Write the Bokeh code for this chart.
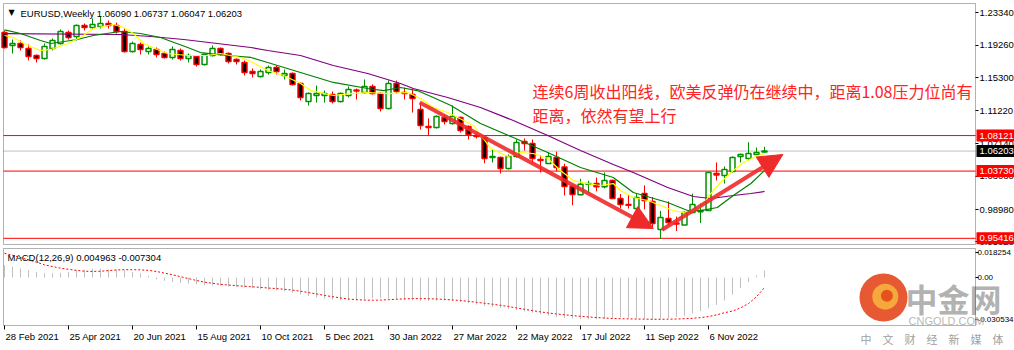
from bokeh.plotting import figure
from bokeh.models import ColumnDataSource, Range1d, Arrow, NormalHead, BoxAnnotation
from bokeh.layouts import column
from bokeh.embed import file_html
from bokeh.resources import INLINE
from bokeh.core.properties import value

FONT = "Liberation Sans"
CJK = "Noto Sans CJK SC"

# ---------------- data (weekly EURUSD, index 0 = week of 28 Feb 2021) ----------------
date_idx = [0, 8, 16, 24, 32, 40, 48, 56, 64, 72, 80, 88]
date_labels = ["28 Feb 2021", "25 Apr 2021", "20 Jun 2021", "15 Aug 2021", "10 Oct 2021",
               "5 Dec 2021", "30 Jan 2022", "27 Mar 2022", "22 May 2022", "17 Jul 2022",
               "11 Sep 2022", "6 Nov 2022"]

opens = [1.2087, 1.1926, 1.1951, 1.1889, 1.1802, 1.1765, 1.1889, 1.1951, 1.2087, 1.2037,
         1.2173, 1.2149, 1.2161, 1.2198, 1.2173, 1.2099, 1.1852, 1.1938, 1.1852, 1.1877,
         1.1827, 1.1778, 1.1864, 1.1765, 1.1790, 1.1691, 1.1802, 1.1889, 1.1827, 1.1753,
         1.1716, 1.1604, 1.1543, 1.1592, 1.1654, 1.1555, 1.1580, 1.1456, 1.1234, 1.1308,
         1.1308, 1.1320, 1.1234, 1.1308, 1.1376, 1.1345, 1.1419, 1.1332, 1.1147, 1.1456,
         1.1345, 1.1320, 1.1135, 1.0924, 1.0912, 1.1036, 1.0961, 1.1036, 1.0924, 1.0813,
         1.0788, 1.0541, 1.0541, 1.0405, 1.0553, 1.0739, 1.0714, 1.0516, 1.0467, 1.0541,
         1.0425, 1.0185, 1.0080, 1.0210, 1.0220, 1.0180, 1.0257, 1.0034, 0.9960, 0.9910,
         1.0096, 0.9997, 0.9650, 0.9787, 0.9730, 0.9705, 0.9861, 0.9870, 0.9885, 1.0343,
         1.0318, 1.0368, 1.0553, 1.0529, 1.0578, 1.06090]
highs = [1.2111, 1.2000, 1.1988, 1.1938, 1.1815, 1.1951, 1.2013, 1.2124, 1.2111, 1.2186,
         1.2198, 1.2260, 1.2290, 1.2235, 1.2210, 1.2136, 1.1975, 1.1963, 1.1914, 1.1901,
         1.1852, 1.1914, 1.1889, 1.1827, 1.1802, 1.1827, 1.1926, 1.1901, 1.1839, 1.1766,
         1.1741, 1.1642, 1.1629, 1.1679, 1.1679, 1.1629, 1.1592, 1.1468, 1.1345, 1.1431,
         1.1369, 1.1357, 1.1345, 1.1419, 1.1394, 1.1506, 1.1444, 1.1345, 1.1493, 1.1493,
         1.1406, 1.1394, 1.1221, 1.1023, 1.1061, 1.1073, 1.1184, 1.1048, 1.0937, 1.0850,
         1.0801, 1.0641, 1.0553, 1.0578, 1.0764, 1.0777, 1.0764, 1.0566, 1.0604, 1.0614,
         1.0464, 1.0200, 1.0278, 1.0254, 1.0293, 1.0356, 1.0268, 1.0090, 1.0079, 1.0096,
         1.0197, 1.0051, 0.9880, 0.9999, 0.9810, 0.9875, 1.0094, 0.9972, 1.0365, 1.0480,
         1.0430, 1.0553, 1.0590, 1.0730, 1.0665, 1.06737]
lows = [1.1889, 1.1827, 1.1864, 1.1741, 1.1716, 1.1753, 1.1864, 1.1938, 1.2000, 1.1988,
        1.2111, 1.2124, 1.2136, 1.2136, 1.2074, 1.1839, 1.1839, 1.1815, 1.1815, 1.1778,
        1.1765, 1.1753, 1.1741, 1.1716, 1.1666, 1.1679, 1.1790, 1.1802, 1.1703, 1.1691,
        1.1555, 1.1530, 1.1530, 1.1567, 1.1567, 1.1506, 1.1431, 1.1246, 1.1184, 1.1221,
        1.1221, 1.1209, 1.1221, 1.1283, 1.1258, 1.1332, 1.1320, 1.1110, 1.1135, 1.1332,
        1.1258, 1.1097, 1.0887, 1.0813, 1.0899, 1.0949, 1.0949, 1.0850, 1.0764, 1.0776,
        1.0470, 1.0479, 1.0343, 1.0393, 1.0541, 1.0627, 1.0467, 1.0356, 1.0467, 1.0368,
        1.0072, 0.9952, 1.0080, 1.0096, 1.0123, 1.0160, 1.0034, 0.9910, 0.9910, 0.9864,
        0.9900, 0.9669, 0.9536, 0.9700, 0.9632, 0.9704, 0.9855, 0.9730, 0.9880, 1.0257,
        1.0219, 1.0356, 1.0479, 1.0504, 1.0578, 1.06047]
closes = [1.1901, 1.1951, 1.1901, 1.1790, 1.1765, 1.1914, 1.1988, 1.2099, 1.2025, 1.2173,
          1.2149, 1.2186, 1.2198, 1.2173, 1.2099, 1.1852, 1.1951, 1.1877, 1.1889, 1.1815,
          1.1778, 1.1877, 1.1765, 1.1802, 1.1691, 1.1815, 1.1889, 1.1815, 1.1728, 1.1728,
          1.1592, 1.1580, 1.1604, 1.1654, 1.1604, 1.1580, 1.1443, 1.1283, 1.1332, 1.1332,
          1.1332, 1.1234, 1.1332, 1.1382, 1.1364, 1.1419, 1.1332, 1.1147, 1.1456, 1.1357,
          1.1332, 1.1271, 1.0937, 1.0912, 1.1048, 1.0986, 1.1048, 1.0875, 1.0825, 1.0801,
          1.0529, 1.0553, 1.0405, 1.0553, 1.0727, 1.0714, 1.0529, 1.0504, 1.0553, 1.0417,
          1.0182, 1.0082, 1.0211, 1.0220, 1.0180, 1.0257, 1.0034, 0.9960, 0.9950, 1.0046,
          1.0009, 0.9725, 0.9799, 0.9737, 0.9720, 0.9861, 0.9960, 0.9885, 1.0356, 1.0325,
          1.0393, 1.0541, 1.0578, 1.0590, 1.0603, 1.06203]

# moving averages (candle index, price)
ma_fast_x = [0, 1.1, 2.9, 4.5, 5.8, 7.9, 9.5, 11.1, 12.9, 13.6, 14.9, 16.1, 17.4, 19.1, 20.4,
             22.9, 25.4, 27.0, 29.5, 30.8, 32.9, 34.9, 37.0, 38.3, 41.1, 43.3, 45.4, 47.9,
             50.4, 52.0, 53.6, 55.4, 57.4, 58.6, 60.8, 62.9, 64.5, 66.1, 67.9, 69.5, 71.1,
             72.9, 74.5, 76.1, 77.0, 78.6, 80.4, 82.0, 83.6, 84.9, 86.1, 87.0, 88.3, 89.5,
             91.1, 92.4, 93.6, 95.0]
ma_fast_y = [1.2050, 1.2025, 1.1926, 1.1864, 1.1877, 1.1951, 1.2025, 1.2136, 1.2173, 1.2186,
             1.2149, 1.2074, 1.1951, 1.1877, 1.1827, 1.1802, 1.1802, 1.1827, 1.1778, 1.1728,
             1.1617, 1.1555, 1.1456, 1.1369, 1.1308, 1.1332, 1.1345, 1.1332, 1.1345, 1.1271,
             1.1159, 1.1098, 1.0998, 1.0937, 1.0652, 1.0553, 1.0603, 1.0590, 1.0529, 1.0380,
             1.0257, 1.0219, 1.0195, 1.0219, 1.0133, 1.0046, 1.0009, 0.9947, 0.9885, 0.9861,
             0.9885, 0.9923, 1.0096, 1.0232, 1.0380, 1.0479, 1.0541, 1.0590]
ma_mid_x = [0, 2.0, 4.5, 5.8, 9.1, 11.1, 13.6, 14.5, 17.0, 19.5, 22.9, 24.5, 27.9, 30.8,
            32.9, 37.0, 41.1, 45.4, 47.4, 49.5, 51.6, 53.6, 55.8, 59.5, 63.6, 67.9, 72.0,
            76.1, 78.6, 82.9, 85.4, 87.0, 89.1, 91.1, 93.3, 95.0]
ma_mid_y = [1.2120, 1.2074, 1.1988, 1.1951, 1.2000, 1.2050, 1.2087, 1.2099, 1.2074, 1.2025,
            1.1901, 1.1839, 1.1802, 1.1778, 1.1716, 1.1592, 1.1469, 1.1394, 1.1369, 1.1407,
            1.1369, 1.1283, 1.1184, 1.0961, 1.0788, 1.0603, 1.0417, 1.0294, 1.0108, 0.9984,
            0.9885, 0.9885, 0.9923, 1.0071, 1.0219, 1.0380]
ma_slow_x = [0, 14.5, 18.3, 22.4, 26.6, 30.8, 32.9, 37.0, 41.1, 45.4, 49.5, 51.1, 55.4, 59.5,
             63.6, 67.9, 72.0, 76.1, 78.6, 82.9, 86.1, 88.3, 91.1, 93.3, 95.0]
ma_slow_y = [1.2074, 1.2062, 1.2037, 1.2000, 1.1951, 1.1901, 1.1864, 1.1802, 1.1679, 1.1580,
             1.1456, 1.1394, 1.1283, 1.1159, 1.0998, 1.0813, 1.0628, 1.0454, 1.0356, 1.0170,
             1.0059, 1.0034, 1.0071, 1.0096, 1.0121]

price_ticks = [1.23340, 1.19260, 1.15300, 1.11220, 1.07140, 1.03080, 0.98980, 0.95020]
red_levels = [1.08121, 1.03730, 0.95416]
last_price = 1.06203

# trend arrows (candle index, price)
down_arrow = dict(x0=51.9, y0=1.1221, x1=81.1, y1=0.9663)
up_arrow = dict(x0=82.2, y0=0.9647, x1=97.3, y1=1.0578)

macd_hist = [0.0090, 0.0078, 0.0066, 0.0053, 0.0041, 0.0030, 0.0030, 0.0034, 0.0041, 0.0053,
             0.0058, 0.0066, 0.0066, 0.0058, 0.0058, 0.0053, 0.0041, 0.0030, 0.0012, -0.0012,
             -0.0024, -0.0032, -0.0040, -0.0044, -0.0050, -0.0056, -0.0058, -0.0060, -0.0066, -0.0068,
             -0.0073, -0.0078, -0.0085, -0.0090, -0.0095, -0.0102, -0.0112, -0.0125, -0.0136, -0.0146,
             -0.0155, -0.0162, -0.0166, -0.0168, -0.0166, -0.0160, -0.0152, -0.0150, -0.0156, -0.0160,
             -0.0165, -0.0166, -0.0170, -0.0172, -0.0170, -0.0168, -0.0170, -0.0178, -0.0188, -0.0198,
             -0.0208, -0.0215, -0.0222, -0.0230, -0.0238, -0.0248, -0.0258, -0.0268, -0.0278, -0.0288,
             -0.0296, -0.0300, -0.0303, -0.0305, -0.0305, -0.0300, -0.0296, -0.0292, -0.0295, -0.0300,
             -0.0302, -0.0305, -0.0300, -0.0295, -0.0288, -0.0278, -0.0262, -0.0245, -0.0225, -0.0200,
             -0.0168, -0.0125, -0.0078, -0.0035, 0.0015, 0.004963]
macd_signal = [0.0177, 0.0162, 0.0146, 0.0128, 0.0112, 0.0092, 0.0080, 0.0068, 0.0060, 0.0052,
               0.0046, 0.0044, 0.0046, 0.0050, 0.0055, 0.0057, 0.0057, 0.0056, 0.0052, 0.0044,
               0.0032, 0.0020, 0.0006, -0.0008, -0.0022, -0.0034, -0.0042, -0.0050, -0.0055, -0.0060,
               -0.0064, -0.0068, -0.0072, -0.0077, -0.0081, -0.0086, -0.0092, -0.0100, -0.0110, -0.0120,
               -0.0131, -0.0140, -0.0149, -0.0157, -0.0162, -0.0165, -0.0166, -0.0165, -0.0162, -0.0159,
               -0.0156, -0.0154, -0.0154, -0.0155, -0.0157, -0.0160, -0.0164, -0.0168, -0.0174, -0.0181,
               -0.0188, -0.0195, -0.0203, -0.0212, -0.0222, -0.0232, -0.0242, -0.0251, -0.0259, -0.0266,
               -0.0272, -0.0278, -0.0283, -0.0288, -0.0292, -0.0296, -0.0299, -0.0301, -0.0302, -0.0303,
               -0.0304, -0.0305, -0.0305, -0.0304, -0.0303, -0.0301, -0.0298, -0.0293, -0.0285, -0.0273,
               -0.0257, -0.0245, -0.0222, -0.0190, -0.0140, -0.007304]
macd_ticks = [0.018254, 0.0, -0.030534]
macd_tick_labels = ["0.018254", "0.00", "-0.030534"]

# ---------------- layout geometry (candle index <-> pixel: x = 4 + 8*i) ----------------
X_RANGE = (-0.5, 126.25)          # whole 1014 px canvas width
PANEL_L, PANEL_R = -0.125, 121.375  # panel borders at x = 3 and x = 975
TICK_R = 121.75                   # end of the small scale ticks
LABEL_X = 121.875                 # scale labels start
TAG_L = 121.5                     # price tags start

def make_fig(h, y0, y1):
    f = figure(width=1014, height=h, x_range=Range1d(*X_RANGE), y_range=Range1d(y0, y1),
               x_axis_location=None, y_axis_location=None, toolbar_location=None,
               output_backend="svg", min_border=0, background_fill_color="white",
               border_fill_color="white", outline_line_color=None)
    for g in list(f.xgrid) + list(f.ygrid):
        g.visible = False
    return f

def txt(f, x, y, text, size, color="black", font=FONT, align="left", **kw):
    f.text(x=x, y=y, text=text, text_font=value(font), text_font_size=size,
           text_color=color, text_align=align, text_baseline="middle", **kw)

# ---------------- main price panel ----------------
idx = list(range(len(opens)))
BULL, BEAR = "#009000", "#ff0000"
bull = [c >= o for o, c in zip(opens, closes)]
src = ColumnDataSource(dict(
    x=idx, low=lows, high=highs,
    top=[max(o, c) for o, c in zip(opens, closes)],
    bottom=[min(o, c) for o, c in zip(opens, closes)],
    line=[BULL if b else BEAR for b in bull],
    fill=["white" if b else "black" for b in bull],
))

p = make_fig(246, 0.94405, 1.24824)
P_TOP, P_BOT = 1.24453, 0.94652

# horizontal price lines
p.segment(x0=[PANEL_L], y0=[last_price], x1=[PANEL_R], y1=[last_price], line_color="#c0c0c0", line_width=1)
p.segment(x0=[PANEL_L] * 3, y0=red_levels, x1=[PANEL_R] * 3, y1=red_levels, line_color="#ff0000", line_width=1)

# candles
p.segment(x0="x", y0="low", x1="x", y1="high", line_color="line", line_width=1, source=src)
p.vbar(x="x", width=0.62, top="top", bottom="bottom", fill_color="fill", line_color="line",
       line_width=1.5, source=src)

# moving averages
p.line(ma_slow_x, ma_slow_y, line_color="#800080", line_width=1.2)
p.line(ma_mid_x, ma_mid_y, line_color="#008000", line_width=1.2)
p.line(ma_fast_x, ma_fast_y, line_color="#ffff00", line_width=1.2)

ARROW = "#ee2a2a"
for a in (down_arrow, up_arrow):
    p.add_layout(Arrow(end=NormalHead(size=24, fill_color=ARROW, line_color=ARROW, line_width=1),
                       x_start=a["x0"], y_start=a["y0"], x_end=a["x1"], y_end=a["y1"],
                       line_color=ARROW, line_width=4, line_alpha=0.9))

# panel border
p.add_layout(BoxAnnotation(left=PANEL_L, right=PANEL_R, top=P_TOP, bottom=P_BOT,
                           fill_color=None, line_color="black", line_width=1))

# price scale
p.segment(x0=[PANEL_R] * len(price_ticks), y0=price_ticks, x1=[TICK_R] * len(price_ticks),
          y1=price_ticks, line_color="black", line_width=1)
txt(p, [LABEL_X] * len(price_ticks), price_ticks, ["%.5f" % v for v in price_ticks], "9.5px")

# price tags
tag_h = 0.0074
p.quad(left=[TAG_L] * 3, right=[X_RANGE[1]] * 3, top=[v + tag_h for v in red_levels],
       bottom=[v - tag_h for v in red_levels], fill_color="#ff0000", line_color=None)
p.quad(left=[TAG_L], right=[X_RANGE[1]], top=[last_price + tag_h], bottom=[last_price - tag_h],
       fill_color="black", line_color=None)
txt(p, [LABEL_X] * 3, red_levels, ["%.5f" % v for v in red_levels], "9.5px", color="white")
txt(p, [LABEL_X], [last_price], ["%.5f" % last_price], "9.5px", color="white")

# header and comment
txt(p, [0.5], [1.2330], ["▼"], "8px", font="DejaVu Sans")
txt(p, [2.0], [1.23254], ["EURUSD,Weekly  1.06090 1.06737 1.06047 1.06203"], "9.5px")
txt(p, [66.0], [1.13695], ["连续6周收出阳线，欧美反弹仍在继续中，距离1.08压力位尚有"], "16px",
    color="#ff2222", font=CJK)
txt(p, [66.0], [1.10727], ["距离，依然有望上行"], "16px", color="#ff2222", font=CJK)

# ---------------- MACD panel ----------------
m = make_fig(104, -0.053285, 0.022628)
M_TOP, M_BOT = 0.021168, -0.035036

m.segment(x0=idx, y0=[0] * len(idx), x1=idx, y1=macd_hist, line_color="#c0c0c0", line_width=1)
m.line(idx, macd_signal, line_color="#ff0000", line_width=1, line_dash="2 2")

m.add_layout(BoxAnnotation(left=PANEL_L, right=PANEL_R, top=M_TOP, bottom=M_BOT,
                           fill_color=None, line_color="black", line_width=1))

txt(m, [0.375], [0.0146], ["MACD(12,26,9) 0.004963 -0.007304"], "9.5px")

# MACD scale
m.segment(x0=[PANEL_R] * 3, y0=macd_ticks, x1=[TICK_R] * 3, y1=macd_ticks, line_color="black", line_width=1)
txt(m, [121.625] * 3, macd_ticks, macd_tick_labels, "8px")

# time scale
tick_bot = -0.037956
m.segment(x0=date_idx, y0=[M_BOT] * len(date_idx), x1=date_idx, y1=[tick_bot] * len(date_idx),
          line_color="black", line_width=1)
txt(m, date_idx, [-0.043066] * len(date_idx), date_labels, "9.5px", x_offset=1)

# watermark
m.scatter([109.875], [-0.0146], size=48, fill_color="#e4471c", line_color=None, alpha=0.9)
m.scatter([110.1], [-0.0140], size=26, fill_color="#f6b13c", line_color=None, alpha=0.9)
m.scatter([110.3], [-0.0134], size=12, fill_color="#e4471c", line_color=None, alpha=0.9)
txt(m, [112.625], [-0.0146], ["中金网"], "32px", color="#a4a4a4", font=CJK,
    text_font_style="bold", text_alpha=0.85)
txt(m, [113.0], [-0.03139], ["CNGOLD.COM"], "11px", color="#b0b0b0", text_alpha=0.9)
txt(m, [107.0], [-0.04453], ["中\u3000文\u3000财\u3000经\u3000新\u3000媒\u3000体"], "11px",
    color="#a0a0a0", font=CJK)

layout = column(p, m, spacing=0)
open("out.html", "w").write(file_html(layout, INLINE))
